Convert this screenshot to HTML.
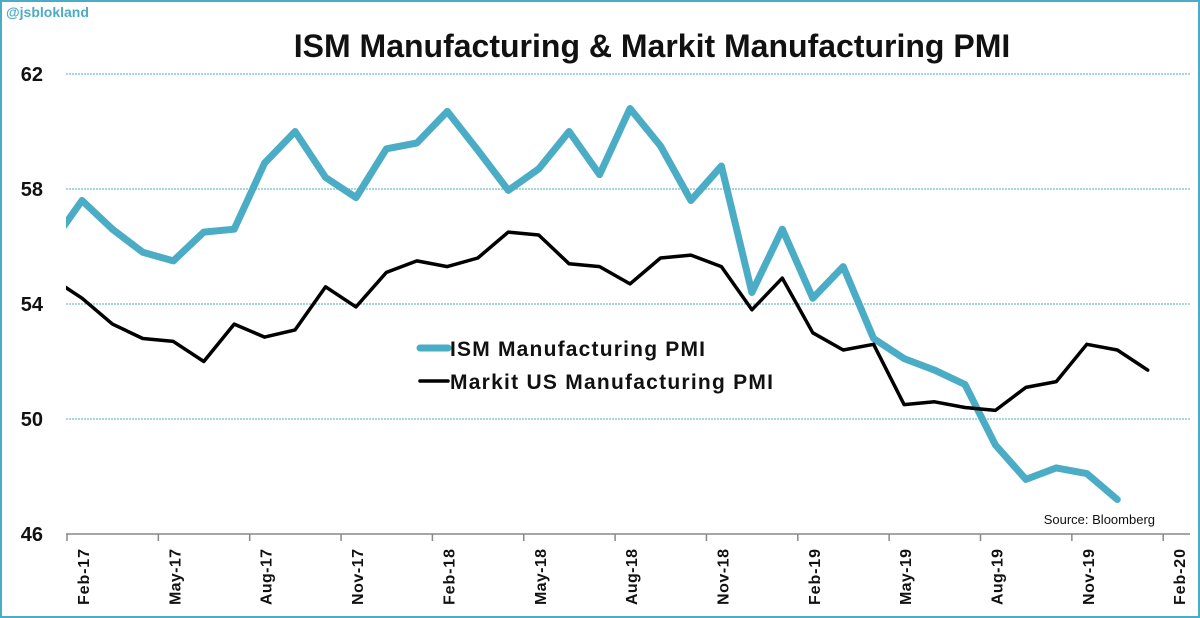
<!DOCTYPE html>
<html><head><meta charset="utf-8"><style>
html,body{margin:0;padding:0;background:#fff;}
svg{display:block;font-family:"Liberation Sans",sans-serif;}
</style></head><body>
<svg id="chart" width="1200" height="618" viewBox="0 0 1200 618">
<rect x="1" y="1" width="1198" height="616" fill="#fff" stroke="#4bacc6" stroke-width="2"/>
<text x="6" y="17" font-size="14" font-weight="bold" fill="#4bacc6">@jsblokland</text>
<text x="652" y="57" font-size="32" font-weight="bold" text-anchor="middle" fill="#111">ISM Manufacturing &amp; Markit Manufacturing PMI</text>
<defs><clipPath id="plotclip"><rect x="66" y="60" width="1125" height="480"/></clipPath></defs>
<g id="grid"></g>
<g id="xaxis"></g>
<g id="series" clip-path="url(#plotclip)"></g>
<g>
<line x1="420" y1="348" x2="448" y2="348" stroke="#4bacc6" stroke-width="7" stroke-linecap="round"/>
<text x="450" y="356" font-size="21" font-weight="bold" textLength="255" fill="#111">ISM Manufacturing PMI</text>
<line x1="420" y1="381" x2="448" y2="381" stroke="#000" stroke-width="3.5" stroke-linecap="round"/>
<text x="450" y="389" font-size="21" font-weight="bold" textLength="323" fill="#111">Markit US Manufacturing PMI</text>
</g>
<text x="1155" y="524" font-size="13" text-anchor="end" fill="#111">Source:  Bloomberg</text>
</svg>
<script>
const months = ["Jan-17","Feb-17","Mar-17","Apr-17","May-17","Jun-17","Jul-17","Aug-17","Sep-17","Oct-17","Nov-17","Dec-17","Jan-18","Feb-18","Mar-18","Apr-18","May-18","Jun-18","Jul-18","Aug-18","Sep-18","Oct-18","Nov-18","Dec-18","Jan-19","Feb-19","Mar-19","Apr-19","May-19","Jun-19","Jul-19","Aug-19","Sep-19","Oct-19","Nov-19","Dec-19","Jan-20"];
const ismValues = [56.1,57.6,56.6,55.8,55.5,56.5,56.6,58.9,60.0,58.4,57.7,59.4,59.6,60.7,59.35,57.95,58.7,60.0,58.5,60.8,59.5,57.6,58.8,54.4,56.6,54.2,55.3,52.8,52.1,51.7,51.2,49.1,47.9,48.3,48.1,47.2,null];
const markitValues = [54.9,54.2,53.3,52.8,52.7,52.0,53.3,52.85,53.1,54.6,53.9,55.1,55.5,55.3,55.6,56.5,56.4,55.4,55.3,54.7,55.6,55.7,55.3,53.8,54.9,53.0,52.4,52.6,50.5,50.6,50.4,50.3,51.1,51.3,52.6,52.4,51.7];
const yTicks = [46,50,54,58,62];
const xTickLabels = ["Feb-17","May-17","Aug-17","Nov-17","Feb-18","May-18","Aug-18","Nov-18","Feb-19","May-19","Aug-19","Nov-19","Feb-20"];

const NS = "http://www.w3.org/2000/svg";
const yScale = v => 534 - (v - 46) * 28.75;
const xScale = i => 51.5 + i * 30.45;
const tickX = k => 67 + k * 91.35;
function mk(tag, attrs, parent){const e=document.createElementNS(NS,tag);for(const k in attrs)e.setAttribute(k,attrs[k]);parent.appendChild(e);return e;}

const grid = document.getElementById("grid");
yTicks.forEach(v => {
  if (v !== 46) {
    const l = mk("line",{x1:66,x2:1190,y1:yScale(v),y2:yScale(v),stroke:"#4bacc6","stroke-width":1,"stroke-dasharray":"2,1"},grid);
    
    
  }
  const t = mk("text",{x:43,y:yScale(v)+7,"font-size":20,"font-weight":"bold","text-anchor":"end",fill:"#111"},grid);
  t.textContent = v;
  
  
});

const xa = document.getElementById("xaxis");
const axl = mk("line",{x1:66,x2:1190,y1:534,y2:534,stroke:"#888","stroke-width":1.5},xa);


xTickLabels.forEach((lab,k) => {
  const x = tickX(k);
  const tk = mk("line",{x1:x,x2:x,y1:534,y2:541,stroke:"#888","stroke-width":1.5},xa);
  
  
  const t = mk("text",{x:0,y:0,"font-size":16,"font-weight":"bold","text-anchor":"end",textLength:56,fill:"#111",transform:`translate(${x+22},549) rotate(-90)`},xa);
  t.textContent = lab;
  
  
});

const sg = document.getElementById("series");
function path(vals){let d="";vals.forEach((v,i)=>{if(v==null)return;d+=(d?"L":"M")+xScale(i).toFixed(1)+","+yScale(v).toFixed(1);});return d;}
const ism = mk("path",{d:path(ismValues),fill:"none",stroke:"#4bacc6","stroke-width":7,"stroke-linejoin":"round","stroke-linecap":"round"},sg);


const mk2 = mk("path",{d:path(markitValues),fill:"none",stroke:"#000","stroke-width":3.5,"stroke-linejoin":"round","stroke-linecap":"round"},sg);


</script>
</body></html>
